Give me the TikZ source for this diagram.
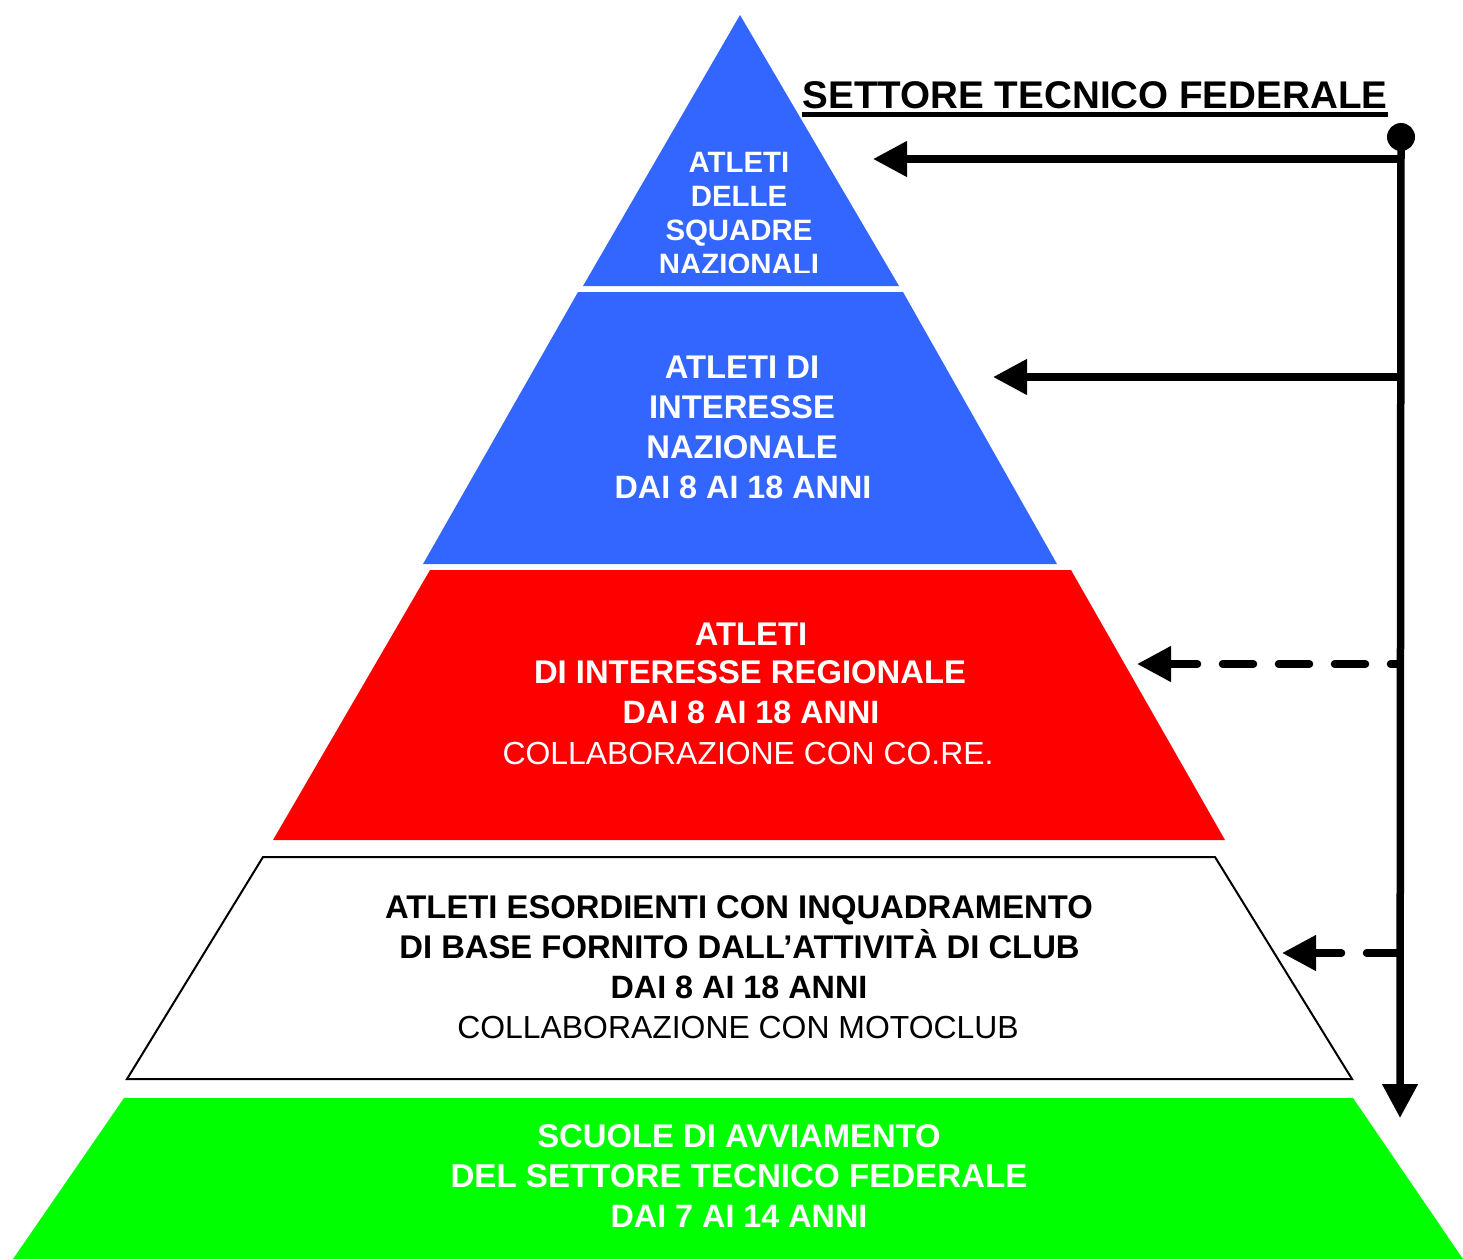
\documentclass[tikz,border=0pt]{standalone}
\usepackage{fontspec}
\setmainfont{Liberation Sans}
\usetikzlibrary{arrows.meta}
\definecolor{tblue}{RGB}{51,102,255}
\definecolor{tred}{RGB}{255,0,0}
\definecolor{tgreen}{RGB}{0,255,0}
\tikzset{
  lb/.style={anchor=base, inner sep=0pt, font=\fontsize{32.8}{38}\selectfont\bfseries},
  lbw/.style={lb, text=white},
  ld/.style={lb, font=\fontsize{32.3}{38}\selectfont\bfseries},
  ldw/.style={ld, text=white},
  lr/.style={anchor=base, inner sep=0pt, font=\fontsize{31.9}{38}\selectfont},
  lrw/.style={lr, text=white},
  ltop/.style={anchor=base, inner sep=0pt, text=white, font=\fontsize{29.4}{34}\selectfont\bfseries},
  conn/.style={line width=7.5pt, -{Triangle[length=34pt,width=34pt]}},
  dconn/.style={conn, line cap=round, dash pattern=on 31pt off 25pt},
}
\begin{document}
\begin{tikzpicture}[x=1pt,y=-1pt]
\useasboundingbox (0,0) rectangle (1463,1259);
% tiers
\fill[tblue] (740,15) -- (899,286) -- (583,286) -- cycle;
\fill[tblue] (578,292) -- (903,292) -- (1057,564) -- (423,564) -- cycle;
\fill[tred] (430,570) -- (1071,570) -- (1225,840) -- (273,840) -- cycle;
\draw[line width=2pt, fill=white] (263,857) -- (1215,857) -- (1352,1079) -- (127,1079) -- cycle;
\fill[tgreen] (124,1098) -- (1353,1098) -- (1463,1259) -- (13,1259) -- cycle;
% tier 1 text (clipped)
\begin{scope}
\clip (0,0) rectangle (1463,272);
\node[ltop] (a1) at (739,172) {ATLETI};
\node[ltop] (a2) at (739,206) {DELLE};
\node[ltop] (a3) at (739,240) {SQUADRE};
\node[ltop] (a4) at (739,274) {NAZIONALI};
\end{scope}
% tier 2 text
\node[lbw] (b1) at (742,378) {ATLETI DI};
\node[lbw] (b2) at (742,418) {INTERESSE};
\node[lbw] (b3) at (742,458) {NAZIONALE};
\node[ldw] (b4) at (743,498) {DAI 8 AI 18 ANNI};
% tier 3 text
\node[lbw] (c1) at (751,645) {ATLETI};
\node[lbw] (c2) at (750,683) {DI INTERESSE REGIONALE};
\node[ldw] (c3) at (751,723) {DAI 8 AI 18 ANNI};
\node[lrw] (c4) at (748,764) {COLLABORAZIONE CON CO.RE.};
% tier 4 text
\node[lb] (d1) at (739,918) {ATLETI ESORDIENTI CON INQUADRAMENTO};
\node[lb] (d2) at (739.5,958) {DI BASE FORNITO DALL’ATTIVITÀ DI CLUB};
\node[ld] (d3) at (739,998) {DAI 8 AI 18 ANNI};
\node[lr] (d4) at (738,1038) {COLLABORAZIONE CON MOTOCLUB};
% tier 5 text
\node[lbw] (e1) at (739,1147) {SCUOLE DI AVVIAMENTO};
\node[lbw, font=\fontsize{33.1}{38}\selectfont\bfseries] (e2) at (739,1187) {DEL SETTORE TECNICO FEDERALE};
\node[ldw] (e3) at (739,1227) {DAI 7 AI 14 ANNI};
% title
\node[anchor=base, inner sep=0pt, font=\fontsize{38.6}{44}\selectfont\bfseries] (title) at (1095,108) {SETTORE TECNICO FEDERALE};
\draw[line width=4.5pt] ([yshift=-6.5pt]title.base west) -- ([yshift=-6.5pt]title.base east);
% connectors
\coordinate (dot) at (1401,137);
\coordinate (j1) at (1400,159);
\coordinate (t1) at (873,159);
\coordinate (j2) at (1400,377);
\coordinate (t2) at (993,377);
\coordinate (j3) at (1400,664);
\coordinate (t3) at (1137,664);
\coordinate (j4) at (1400,953);
\coordinate (t4) at (1282,953);
\coordinate (bot) at (1400,1118);
\fill (dot) circle (14);
\draw[conn] (dot) -- (bot);
\draw[conn] (j1) -- (t1);
\draw[conn] (j2) -- (t2);
\draw[dconn, dash phase=21.5pt] (j3) -- (t3);
\draw[dconn, dash phase=53.5pt] (j4) -- (t4);
\end{tikzpicture}
\end{document}
